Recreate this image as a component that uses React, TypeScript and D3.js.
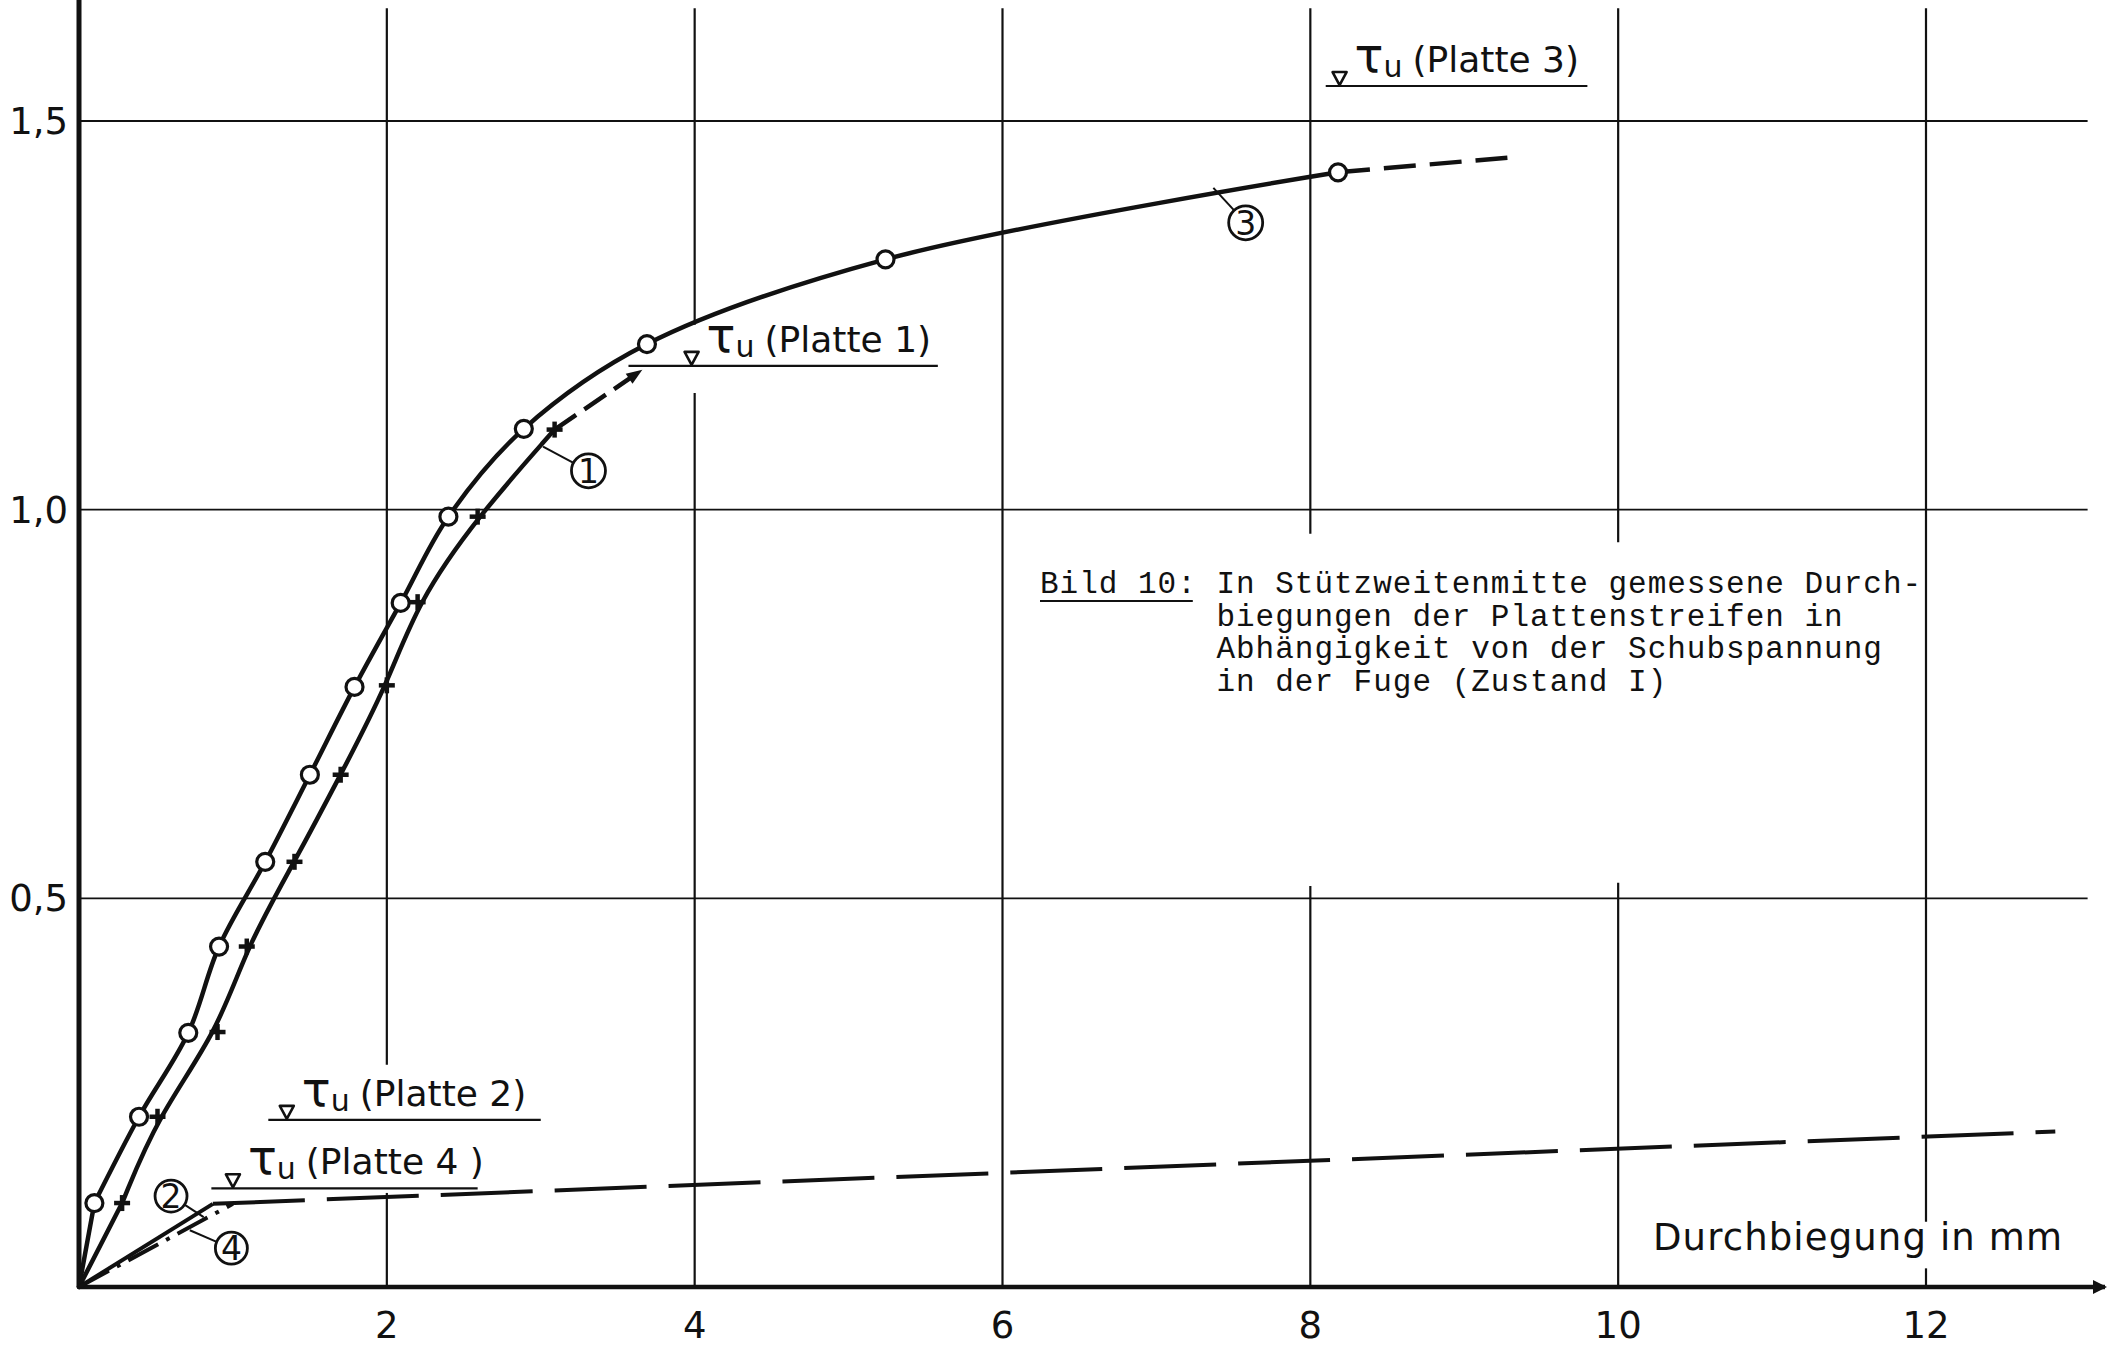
import React from "react";
import * as d3 from "d3";

// ---------- data ----------
// Curve 3 (circles)
const plate3X = [0.10, 0.39, 0.71, 0.91, 1.21, 1.50, 1.79, 2.09, 2.40, 2.89, 3.69, 5.24, 8.18];
const plate3Y = [0.108, 0.219, 0.327, 0.438, 0.547, 0.659, 0.772, 0.880, 0.991, 1.104, 1.213, 1.322, 1.434];
const plate3DashedEnd = [9.29, 1.453];
// Curve 1 (plus signs)
const plate1X = [0.28, 0.51, 0.90, 1.09, 1.40, 1.70, 2.00, 2.20, 2.59, 3.09];
const plate1Y = [0.108, 0.219, 0.328, 0.438, 0.547, 0.659, 0.774, 0.881, 0.991, 1.103];
const plate1DashedEnd = [3.66, 1.18];
// Curve 2 (solid to corner, then dashed)
const plate2X = [0, 0.87];
const plate2Y = [0, 0.107];
const plate2DashedX = [0.87, 12.84];
const plate2DashedY = [0.107, 0.200];
// Curve 4 (dash-dot)
const plate4X = [0, 1.0];
const plate4Y = [0, 0.107];

// ultimate shear stress marks
const tauNames = ["Platte 1", "Platte 2", "Platte 3", "Platte 4 "];
const tauValues = [1.185, 0.215, 1.545, 0.127];
const tauMarkX = [3.98, 1.35, 8.19, 1.0];
const tauLineFrom = [3.57, 1.23, 8.10, 0.86];
const tauLineTo = [5.58, 3.0, 9.80, 2.59];

// circled curve numbers
const curveNumbers = ["1", "2", "3", "4"];
const curveNumberX = [3.31, 0.598, 7.58, 0.99];
const curveNumberY = [1.050, 0.117, 1.369, 0.050];
const leaderX = [3.015, 0.81, 7.37, 0.72];
const leaderY = [1.081, 0.090, 1.414, 0.073];

const xTicks = [2, 4, 6, 8, 10, 12];
const xTickLabels = ["2", "4", "6", "8", "10", "12"];
const yTicks = [0.5, 1.0, 1.5];
const yTickLabels = ["0,5", "1,0", "1,5"];

const xAxisTitle = "Durchbiegung in mm";
const captionHead = "Bild 10:";
const captionLines = [
  "In Stützweitenmitte gemessene Durch-",
  "biegungen der Plattenstreifen in",
  "Abhängigkeit von der Schubspannung",
  "in der Fuge (Zustand I)",
];

// ---------- layout ----------
const W = 2109;
const H = 1350;
const x = d3.scaleLinear().domain([0, 12]).range([79, 1926]);
const y = d3.scaleLinear().domain([0, 1.5]).range([1287, 121]);

const INK = "#111";
const sans = "'DejaVu Sans', 'Open Sans', sans-serif";
const mono = "'Liberation Mono', 'DejaVu Sans Mono', monospace";

// vertical grid segments (value ranges) – gaps where labels sit
const vGridSegments: Record<number, [number, number][]> = {
  2: [[0, 0.121], [0.286, 1.645]],
  4: [[0, 1.150], [1.238, 1.645]],
  6: [[0, 1.645]],
  8: [[0, 0.516], [0.969, 1.645]],
  10: [[0, 0.520], [0.958, 1.645]],
  12: [[0, 0.024], [0.084, 1.645]],
};

const zip = (xs: number[], ys: number[]) => xs.map((v, i) => [v, ys[i]] as [number, number]);

const through = d3
  .line<[number, number]>()
  .x((d) => x(d[0]))
  .y((d) => y(d[1]))
  .curve(d3.curveCatmullRom.alpha(0.5));
const fitted = d3
  .line<[number, number]>()
  .x((d) => x(d[0]))
  .y((d) => y(d[1]))
  .curve(d3.curveBasis);
const straight = d3
  .line<[number, number]>()
  .x((d) => x(d[0]))
  .y((d) => y(d[1]));

export default function App() {
  const p3 = zip(plate3X, plate3Y);
  const p1 = zip(plate1X, plate1Y);
  const c3a = straight([[0, 0], p3[0]]) as string;
  const c3 = through(p3) as string;
  const c1a = straight([[0, 0], p1[0]]) as string;
  const c1 = fitted(p1) as string;
  const c3d = straight([p3[p3.length - 1], plate3DashedEnd as [number, number]]) as string;
  const c1d = straight([p1[p1.length - 1], plate1DashedEnd as [number, number]]) as string;
  const c2 = straight(zip(plate2X, plate2Y)) as string;
  const c2d = straight(zip(plate2DashedX, plate2DashedY)) as string;
  const c4 = straight(zip(plate4X, plate4Y)) as string;

  // arrow head at end of curve 1
  const ax0 = x(p1[p1.length - 1][0]);
  const ay0 = y(p1[p1.length - 1][1]);
  const ax1 = x(plate1DashedEnd[0]);
  const ay1 = y(plate1DashedEnd[1]);
  const ang = Math.atan2(ay1 - ay0, ax1 - ax0);
  const ah = 16;
  const aw = 6;
  const arrow = [
    [ax1, ay1],
    [ax1 - ah * Math.cos(ang) + aw * Math.sin(ang), ay1 - ah * Math.sin(ang) - aw * Math.cos(ang)],
    [ax1 - ah * Math.cos(ang) - aw * Math.sin(ang), ay1 - ah * Math.sin(ang) + aw * Math.cos(ang)],
  ]
    .map((p) => p.join(","))
    .join(" ");

  const charW = 19.6;
  const capX = 1040;
  const capBase = 593;
  const capLH = 32.7;

  return (
    <svg
      width={W}
      height={H}
      viewBox={`0 0 ${W} ${H}`}
      style={{ position: "absolute", left: 0, top: 0, background: "#fff" }}
    >
      <rect x={0} y={0} width={W} height={H} fill="#fff" />

      {/* horizontal grid */}
      {yTicks.map((t) => (
        <line key={"hg" + t} x1={x(0)} x2={x(13.05)} y1={y(t)} y2={y(t)} stroke={INK} strokeWidth={1.8} />
      ))}
      {/* vertical grid */}
      {xTicks.map((t) =>
        vGridSegments[t].map((s, i) => (
          <line key={"vg" + t + "-" + i} x1={x(t)} x2={x(t)} y1={y(s[0])} y2={y(s[1])} stroke={INK} strokeWidth={2.2} />
        ))
      )}

      {/* axes */}
      <line x1={x(0)} x2={x(0)} y1={0} y2={y(0)} stroke={INK} strokeWidth={5} />
      <line x1={x(0)} x2={W - 4} y1={y(0)} y2={y(0)} stroke={INK} strokeWidth={4.5} />
      <polygon points={`${W - 2},${y(0)} ${W - 16},${y(0) - 7} ${W - 16},${y(0) + 7}`} fill={INK} />

      {/* tick labels */}
      {xTicks.map((t, i) => (
        <text key={"xt" + t} x={x(t)} y={y(0) + 51} textAnchor="middle" fontFamily={sans} fontSize={37} fill={INK}>
          {xTickLabels[i]}
        </text>
      ))}
      {yTicks.map((t, i) => (
        <text key={"yt" + t} x={68} y={y(t) + 13} textAnchor="end" fontFamily={sans} fontSize={37} fill={INK}>
          {yTickLabels[i]}
        </text>
      ))}
      <text x={1653} y={1250} fontFamily={sans} fontSize={37} fill={INK} textLength={409} lengthAdjust="spacing">
        {xAxisTitle}
      </text>

      {/* curves */}
      <path d={c3a} fill="none" stroke={INK} strokeWidth={4.5} strokeLinecap="round" />
      <path d={c3} fill="none" stroke={INK} strokeWidth={4.5} strokeLinejoin="round" />
      <path d={c3d} fill="none" stroke={INK} strokeWidth={4.5} strokeDasharray="32 14" />
      <path d={c1a} fill="none" stroke={INK} strokeWidth={4.5} strokeLinecap="round" />
      <path d={c1} fill="none" stroke={INK} strokeWidth={4.5} strokeLinejoin="round" />
      <path d={c1d} fill="none" stroke={INK} strokeWidth={4.5} strokeDasharray="26 10" />
      <polygon points={arrow} fill={INK} />
      <path d={c2} fill="none" stroke={INK} strokeWidth={4} />
      <path d={c2d} fill="none" stroke={INK} strokeWidth={4} strokeDasharray="92 22" />
      <path d={c4} fill="none" stroke={INK} strokeWidth={4} strokeDasharray="34 9 4 9" />

      {/* markers */}
      {p3.map((d, i) => (
        <circle key={"c" + i} cx={x(d[0])} cy={y(d[1])} r={8.5} fill="#fff" stroke={INK} strokeWidth={3.2} />
      ))}
      {p1.map((d, i) => (
        <g key={"p" + i} stroke={INK} strokeWidth={4.5}>
          <line x1={x(d[0]) - 8} x2={x(d[0]) + 8} y1={y(d[1])} y2={y(d[1])} />
          <line x1={x(d[0])} x2={x(d[0])} y1={y(d[1]) - 8} y2={y(d[1]) + 8} />
        </g>
      ))}

      {/* tau_u marks */}
      {tauNames.map((name, i) => {
        const uy = y(tauValues[i]);
        const tx = x(tauMarkX[i]);
        return (
          <g key={"tau" + i}>
            <line x1={x(tauLineFrom[i])} x2={x(tauLineTo[i])} y1={uy} y2={uy} stroke={INK} strokeWidth={2.2} />
            <polygon
              points={`${tx - 7},${uy - 14} ${tx + 7},${uy - 14} ${tx},${uy - 1}`}
              fill="none"
              stroke={INK}
              strokeWidth={2.6}
              strokeLinejoin="round"
            />
            <text x={tx + 15} y={uy - 14} fontFamily={sans} fontSize={36} fill={INK}>
              <tspan fontSize={48}>τ</tspan>
              <tspan fontSize={30} dy={5}>u</tspan>
              <tspan dy={-5} dx={10}>{"(" + name + ")"}</tspan>
            </text>
          </g>
        );
      })}

      {/* circled curve numbers */}
      {curveNumbers.map((n, i) => {
        const cx = x(curveNumberX[i]);
        const cy = y(curveNumberY[i]);
        const lx = x(leaderX[i]);
        const ly = y(leaderY[i]);
        const r = i === 1 || i === 3 ? 16 : 17;
        const a = Math.atan2(ly - cy, lx - cx);
        return (
          <g key={"cn" + i}>
            <line x1={cx + r * Math.cos(a)} y1={cy + r * Math.sin(a)} x2={lx} y2={ly} stroke={INK} strokeWidth={2} />
            <circle cx={cx} cy={cy} r={r} fill="#fff" stroke={INK} strokeWidth={2.8} />
            <text x={cx} y={cy + 12} textAnchor="middle" fontFamily={sans} fontSize={33} fill={INK}>
              {n}
            </text>
          </g>
        );
      })}

      {/* caption */}
      <g fontFamily={mono} fontSize={31} fill={INK} letterSpacing={1}>
        <text x={capX} y={capBase}>{captionHead}</text>
        <line x1={capX} x2={capX + 8 * charW - 4} y1={capBase + 8} y2={capBase + 8} stroke={INK} strokeWidth={2} />
        {captionLines.map((l, i) => (
          <text key={"cap" + i} x={capX + 9 * charW} y={capBase + i * capLH}>
            {l}
          </text>
        ))}
      </g>
    </svg>
  );
}
